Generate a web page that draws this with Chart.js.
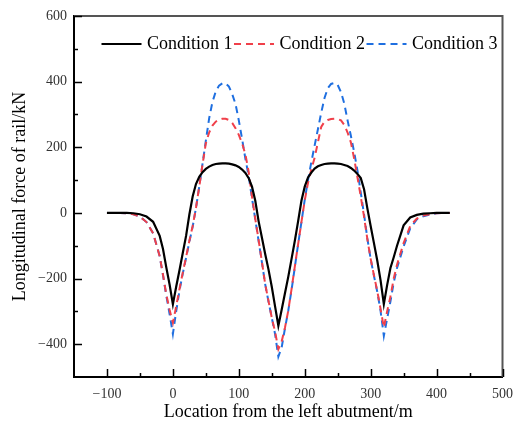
<!DOCTYPE html>
<html><head><meta charset="utf-8">
<script src="https://cdn.jsdelivr.net/npm/chart.js@4.4.1/dist/chart.umd.min.js"></script>
<style>html,body{margin:0;padding:0;background:#fff;}</style>
</head><body>
<canvas id="c" width="522" height="424"></canvas>
<script>
// Location from the left abutment (m)
const locations = [
  -100,-80,-70,-60,-50,-40,-30,-20,
  -15,-10,-5,
  0,5,10,15,20,25,30,35,40,45,50,55,60,65,70,75,80,85,90,95,
  100,105,110,115,120,125,130,135,140,145,150,155,160,165,170,175,180,185,190,195,
  200,205,210,215,220,225,230,235,240,245,250,255,260,265,270,275,280,285,290,295,
  300,305,310,315,320,325,330,335,340,
  350,360,370,380,390,400,410,420
];
const condition1 = [
  0,0,0,-1,-4,-11,-27,-70,
  -110,-166,-218,
  -278,-225,-175,-122,-70,-5,50,88,110,124,134,141,146,149,150,151,151,150,148,145,
  140,132,122,106,80,37,-25,-75,-125,-172,-225,-285,-344,-295,-245,-195,-140,-85,-25,37,
  80,108,123,135,142,146,149,150,151,151,150,149,146,143,137,129,119,106,72,14,
  -40,-92,-145,-205,-278,-220,-168,-135,-100,
  -38,-14,-6,-2,-1,0,0,0
];
const condition2 = [
  0,0,-1,-4,-11,-28,-62,-132,
  -188,-248,-295,
  -335,-285,-232,-182,-135,-85,-40,15,80,148,212,245,266,278,284,287,287,283,274,258,
  238,212,178,125,50,-18,-82,-148,-217,-268,-319,-362,-415,-392,-350,-298,-232,-163,-95,-28,
  38,92,132,168,215,262,278,283,286,287,286,282,268,245,215,165,108,50,-12,-80,
  -140,-190,-238,-292,-349,-300,-255,-200,-158,
  -92,-40,-17,-8,-4,-1,0,0
];
const condition3 = [
  0,0,-1,-4,-11,-28,-62,-132,
  -190,-252,-308,
  -369,-300,-237,-185,-137,-88,-42,15,80,150,220,288,338,370,388,395,395,385,362,332,
  282,225,165,112,45,-20,-85,-150,-217,-270,-319,-369,-438,-410,-352,-298,-235,-165,-95,-28,
  40,100,155,205,255,305,350,380,393,396,390,368,333,282,235,185,129,62,-5,-78,
  -140,-192,-240,-298,-375,-322,-270,-212,-168,
  -102,-47,-20,-10,-5,-1,0,0
];
const seriesNames = ['Condition 1', 'Condition 2', 'Condition 3'];
const xMajorTicks = [-100, 0, 100, 200, 300, 400, 500];
const xMinorTicks = [-50, 50, 150, 250, 350, 450];
const yMajorTicks = [-400, -200, 0, 200, 400, 600];
const yMinorTicks = [-300, -100, 100, 300, 500];

const toPts = arr => arr.map((v, i) => ({x: locations[i], y: v}));
const fmt = v => String(v).replace('-', '\u2212');
const SERIF = '"Liberation Serif", "Times New Roman", serif';

const frameTicks = {
  id: 'frameTicks',
  afterDraw(chart) {
    const {ctx, chartArea: ca, scales: {x, y}} = chart;
    ctx.save();
    ctx.strokeStyle = '#555';
    ctx.lineWidth = 2;
    ctx.beginPath();
    ctx.moveTo(ca.left, ca.top);
    ctx.lineTo(ca.right, ca.top);
    ctx.lineTo(ca.right, ca.bottom);
    ctx.stroke();
    ctx.strokeStyle = '#000';
    ctx.lineWidth = 1.5;
    const tick = (x1, y1, x2, y2) => { ctx.beginPath(); ctx.moveTo(x1, y1); ctx.lineTo(x2, y2); ctx.stroke(); };
    xMajorTicks.forEach(v => { const p = Math.round(x.getPixelForValue(v)) + 0.5; tick(p, ca.bottom, p, ca.bottom - 8); });
    xMinorTicks.forEach(v => { const p = Math.round(x.getPixelForValue(v)) + 0.5; tick(p, ca.bottom, p, ca.bottom - 4); });
    yMajorTicks.forEach(v => { const p = Math.round(y.getPixelForValue(v)) + 0.5; tick(ca.left, p, ca.left + 8, p); });
    yMinorTicks.forEach(v => { const p = Math.round(y.getPixelForValue(v)) + 0.5; tick(ca.left, p, ca.left + 4, p); });
    ctx.restore();
  },
  afterDatasetsDraw(chart) {
    const ctx = chart.ctx;
    ctx.save();
    ctx.font = '18px ' + SERIF;
    ctx.textBaseline = 'middle';
    ctx.textAlign = 'left';
    let lx = 101.5;
    const ly = 44;
    chart.data.datasets.forEach(ds => {
      ctx.strokeStyle = ds.borderColor;
      ctx.lineWidth = ds.borderWidth;
      ctx.setLineDash(ds.borderDash || []);
      ctx.beginPath(); ctx.moveTo(lx, ly); ctx.lineTo(lx + 40, ly); ctx.stroke();
      ctx.setLineDash([]);
      ctx.fillStyle = '#000';
      ctx.fillText(ds.label, lx + 45.5, ly + 0.5);
      lx += 45.5 + ctx.measureText(ds.label).width + 1.5;
    });
    ctx.restore();
  }
};

new Chart(document.getElementById('c'), {
  type: 'line',
  data: {
    datasets: [
      {label: seriesNames[0], data: toPts(condition1), borderColor: '#000000', borderWidth: 2.2, pointRadius: 0, tension: 0, fill: false},
      {label: seriesNames[1], data: toPts(condition2), borderColor: '#f0404a', borderWidth: 2, borderDash: [7, 5], pointRadius: 0, tension: 0, fill: false},
      {label: seriesNames[2], data: toPts(condition3), borderColor: '#1f6fe0', borderWidth: 2, borderDash: [7, 5], pointRadius: 0, tension: 0, fill: false}
    ]
  },
  options: {
    responsive: false,
    animation: false,
    devicePixelRatio: 1,
    layout: {padding: {top: 16, right: 12, left: 0, bottom: 0}},
    plugins: {legend: {display: false}, tooltip: {enabled: false}},
    scales: {
      x: {
        type: 'linear', min: -150, max: 500,
        afterBuildTicks: s => { s.ticks = xMajorTicks.map(v => ({value: v})); },
        afterFit: s => { s.height = 47; },
        grid: {display: false, drawTicks: false},
        border: {display: true, color: '#000', width: 2},
        ticks: {font: {family: SERIF, size: 14}, color: '#333', padding: 9, maxRotation: 0, autoSkip: false, callback: v => fmt(v)},
        title: {display: true, text: 'Location from the left abutment/m', font: {family: SERIF, size: 18}, color: '#000', padding: {top: 0, bottom: 1}}
      },
      y: {
        type: 'linear', min: -500, max: 600,
        afterBuildTicks: s => { s.ticks = yMajorTicks.map(v => ({value: v})); },
        afterFit: s => { s.width = 74; },
        grid: {display: false, drawTicks: false},
        border: {display: true, color: '#000', width: 2},
        ticks: {font: {family: SERIF, size: 14}, color: '#333', padding: 7, autoSkip: false, callback: v => fmt(v)},
        title: {display: true, text: 'Longitudinal force of rail/kN', font: {family: SERIF, size: 18}, color: '#000', padding: {top: 9, bottom: 0}}
      }
    }
  },
  plugins: [frameTicks]
});
</script>
</body></html>
